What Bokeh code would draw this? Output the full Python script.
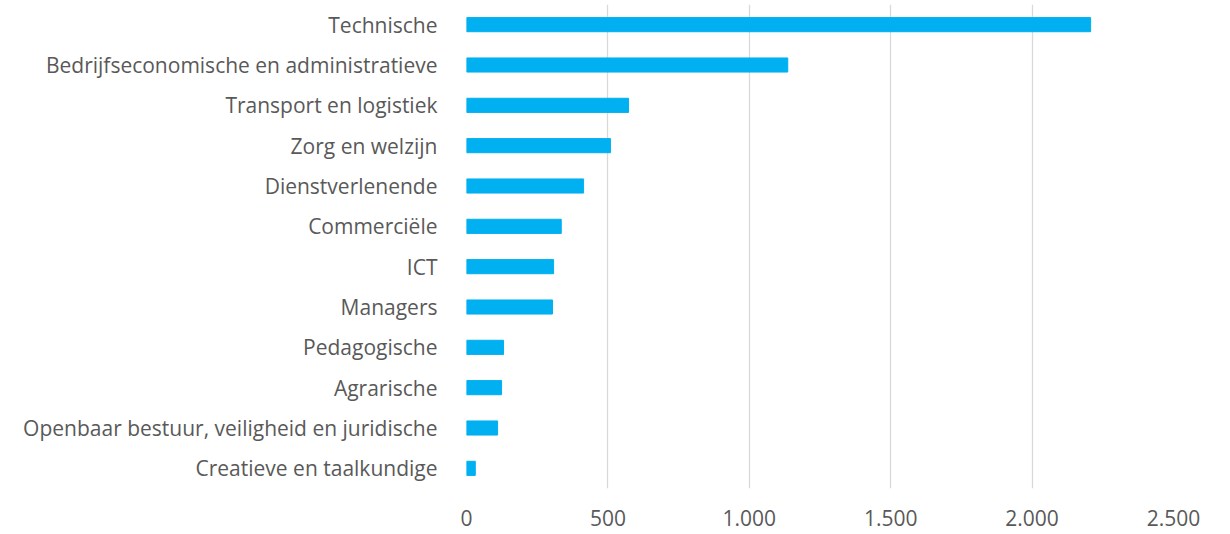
from bokeh.plotting import figure
from bokeh.models import FactorRange, FixedTicker, Range1d
from bokeh.embed import file_html
from bokeh.resources import INLINE

categories = [
    "Technische",
    "Bedrijfseconomische en administratieve",
    "Transport en logistiek",
    "Zorg en welzijn",
    "Dienstverlenende",
    "Commerciële",
    "ICT",
    "Managers",
    "Pedagogische",
    "Agrarische",
    "Openbaar bestuur, veiligheid en juridische",
    "Creatieve en taalkundige",
]
values = [2207, 1136, 573, 509, 414, 335, 308, 304, 131, 124, 110, 31]
tick_values = [0, 500, 1000, 1500, 2000, 2500]
tick_labels = ["0", "500", "1.000", "1.500", "2.000", "2.500"]

TEXT = "#595959"
FONT = "Open Sans"

p = figure(
    width=1214, height=532,
    y_range=FactorRange(factors=categories[::-1]),
    x_range=Range1d(tick_values[0], tick_values[-1]),
    output_backend="svg", toolbar_location=None,
    min_border_left=466, min_border_right=41,
    min_border_top=4, min_border_bottom=44,
)
p.outline_line_color = None
p.background_fill_color = "white"

p.hbar(y=categories, right=values, left=0, height=0.35,
       fill_color="#00B0F0", line_color="#00B0F0")

p.ygrid.visible = False
p.xgrid.grid_line_color = "#d9d9d9"
p.xgrid.grid_line_width = 1.3

p.xaxis.ticker = FixedTicker(ticks=tick_values)
p.xaxis.major_label_overrides = {v: l for v, l in zip(tick_values, tick_labels)}

for ax in (p.xaxis, p.yaxis):
    ax.axis_line_color = None
    ax.major_tick_line_color = None
    ax.minor_tick_line_color = None
    ax.major_label_text_font = FONT
    ax.major_label_text_font_size = "21px"
    ax.major_label_text_color = TEXT

p.yaxis.major_label_standoff = 23
p.xaxis.major_label_standoff = 15

open("out.html", "w").write(file_html(p, INLINE))
